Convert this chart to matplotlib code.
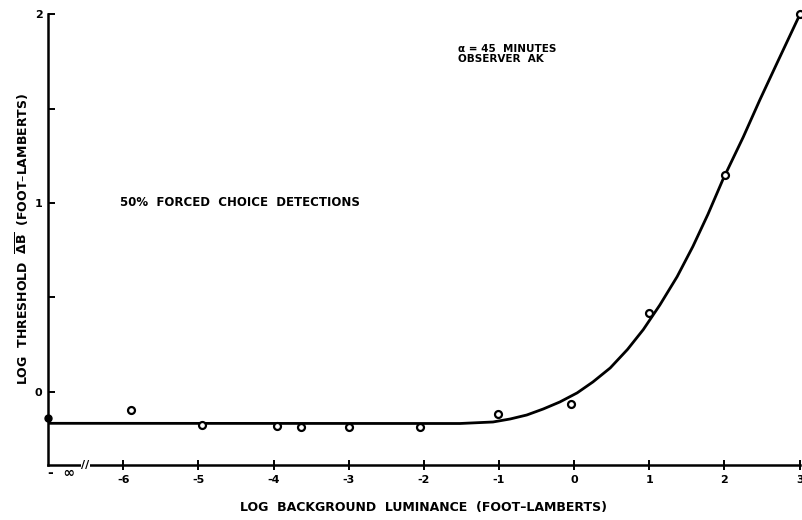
#!/usr/bin/env python3
"""
Threshold vs background luminance (forced choice detections), observer AK.
Recreated from a scanned figure.
"""

import matplotlib
matplotlib.use("Agg")
import matplotlib.pyplot as plt

# measured thresholds (log foot-lamberts); x = -7 stands for "-inf"
obs_x = [-5.90, -4.95, -3.95, -3.63, -3.0, -2.05, -1.01, -0.04, 1.0, 2.01, 3.0]
obs_y = [-0.095, -0.175, -0.18, -0.185, -0.185, -0.185, -0.116, -0.063, 0.418, 1.148, 2.0]
zero_bg_x = -7.0
zero_bg_y = -0.138

# fitted curve
fit_x = [-7.0, -1.52, -1.08, -0.85, -0.63, -0.41, -0.19, 0.04, 0.25, 0.48,
         0.71, 0.92, 1.14, 1.37, 1.58, 1.78, 1.98, 2.25, 2.47, 2.70, 3.0]
fit_y = [-0.166, -0.167, -0.159, -0.143, -0.122, -0.090, -0.053, -0.005, 0.053, 0.127,
         0.225, 0.330, 0.460, 0.610, 0.770, 0.940, 1.125, 1.349, 1.545, 1.741, 1.995]

x_ticks = [-6, -5, -4, -3, -2, -1, 0, 1, 2, 3]
y_ticks = [0, 1, 2]
y_minor = [0.5, 1.5]

plt.rcParams['font.family'] = ['DejaVu Sans']
plt.rcParams['font.weight'] = 'bold'

fig = plt.figure(figsize=(8.03, 5.20), dpi=100)
ax = fig.add_axes([0.0598, 0.106, 0.936, 0.867])

ax.plot(fit_x, fit_y, color='black', linewidth=2.0, solid_capstyle='round',
        solid_joinstyle='round', zorder=2)
ax.plot(obs_x, obs_y, 'o', markersize=5, markerfacecolor='white',
        markeredgecolor='black', markeredgewidth=1.6, zorder=3, clip_on=False)
ax.plot([zero_bg_x], [zero_bg_y], 'o', markersize=5, color='black', zorder=3, clip_on=False)

ax.set_xlim(-7, 3)
ax.set_ylim(-0.386, 2.0)

for s in ['top', 'right']:
    ax.spines[s].set_visible(False)
for s in ['left', 'bottom']:
    ax.spines[s].set_linewidth(1.8)

ax.set_xticks(x_ticks)
ax.set_xticklabels([str(t) for t in x_ticks], fontsize=8, fontweight='bold')
ax.tick_params(axis='x', direction='inout', length=7, width=1.4, pad=4)
ax.set_yticks(y_ticks)
ax.set_yticklabels(['0', '1', '2'], fontsize=8, fontweight='bold')
ax.set_yticks(y_minor, minor=True)
ax.tick_params(axis='y', which='both', direction='in', length=5, width=1.4, pad=4)

# "-inf" label at the origin and the axis break
ax.text(-7.0, -0.43, '-  ∞', fontsize=10, fontweight='bold', ha='left', va='center')
ax.text(-6.5, -0.386, '//', fontsize=8, fontweight='bold', ha='center', va='center',
        bbox=dict(boxstyle='square,pad=0.05', facecolor='white', edgecolor='none'))

ax.set_xlabel('LOG  BACKGROUND  LUMINANCE  (FOOT–LAMBERTS)', fontsize=9,
              fontweight='bold', labelpad=11)
ax.set_ylabel(r'LOG  THRESHOLD  $\overline{\mathbf{\Delta B}}$  (FOOT–LAMBERTS)',
              fontsize=9, fontweight='bold', labelpad=3)

ax.text(-1.54, 1.79, 'α = 45  MINUTES\nOBSERVER  AK', fontsize=7.5,
        fontweight='bold', ha='left', va='center', linespacing=1.0)
ax.text(-6.04, 1.0, '50%  FORCED  CHOICE  DETECTIONS', fontsize=8.5,
        fontweight='bold', ha='left', va='center')

fig.savefig('out.png', dpi=100)
